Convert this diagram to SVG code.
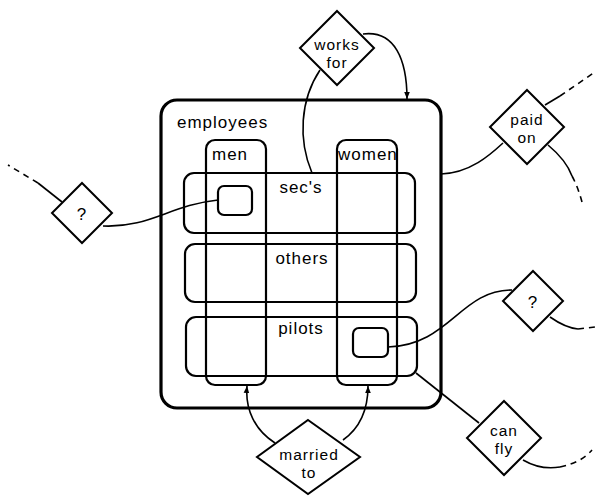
<svg xmlns="http://www.w3.org/2000/svg" width="595" height="496" viewBox="0 0 595 496">
<defs>
<style>
.box{fill:none;stroke:#000;stroke-width:2.2}
.outer{fill:none;stroke:#000;stroke-width:3.2}
.dia{fill:#fff;stroke:#000;stroke-width:2}
.ln{fill:none;stroke:#000;stroke-width:1.6}
.dash{fill:none;stroke:#000;stroke-width:1.6;stroke-dasharray:6 5}
text{font-family:"Liberation Sans",Arial,sans-serif;font-size:17px;letter-spacing:1px;fill:#000}
.c{text-anchor:middle}
.d{font-size:15.5px}
</style>
<marker id="ah" viewBox="0 0 10 10" refX="10" refY="5" markerWidth="7" markerHeight="9" orient="auto" markerUnits="userSpaceOnUse">
<path d="M0,1 L10,5 L0,9 Z" fill="#000"/>
</marker>
</defs>
<rect width="595" height="496" fill="#fff"/>

<g id="employees">
<rect class="outer" x="161" y="100" width="280" height="308" rx="16"/>
<text x="177" y="128">employees</text>
</g>
<g id="men">
<rect class="box" x="206" y="140" width="60" height="245" rx="9"/>
<text x="212" y="160">men</text>
</g>
<g id="women">
<rect class="box" x="337" y="140" width="60" height="245" rx="9"/>
<text x="338" y="160">women</text>
</g>
<g id="secs">
<rect class="box" x="184" y="173" width="231" height="60" rx="10"/>
<text x="301" y="193" class="c">sec's</text>
</g>
<g id="others">
<rect class="box" x="185" y="244" width="231" height="58" rx="10"/>
<text x="302" y="264" class="c">others</text>
</g>
<g id="pilots">
<rect class="box" x="186" y="317" width="231" height="59" rx="10"/>
<text x="301" y="334" class="c">pilots</text>
</g>
<g id="sec-man">
<rect class="box" x="218" y="186" width="34" height="29" rx="6"/>
</g>
<g id="pilot-woman">
<rect class="box" x="353" y="328" width="35" height="29" rx="6"/>
</g>

<g id="connectors">
<path class="ln" d="M320,70 C300,100 298,140 312,173"/>
<path class="ln" d="M363,34 C395,30 407,60 407,99" marker-end="url(#ah)"/>
<path class="ln" d="M103,226 C150,228 170,205 218,200"/>
<path class="ln" d="M62,202 L38,183"/>
<path class="dash" d="M38,183 L8,165"/>
<path class="ln" d="M441,174 C470,173 490,155 503,143"/>
<path class="ln" d="M545,105 L560,96"/>
<path class="dash" d="M560,96 L595,72"/>
<path class="ln" d="M548,145 C560,155 568,165 572,176"/>
<path class="dash" d="M572,176 C577,185 580,195 582,202"/>
<path class="ln" d="M388,347 C450,345 460,290 512,290"/>
<path class="ln" d="M550,317 C560,324 568,328 578,329"/>
<path class="dash" d="M578,329 L595,327"/>
<path class="ln" d="M416,373 L479,423"/>
<path class="ln" d="M523,460 C535,467 548,469 560,467"/>
<path class="dash" d="M560,467 C575,464 585,458 592,450"/>
<path class="ln" d="M275,443 C255,430 245,410 247,386" marker-end="url(#ah)"/>
<path class="ln" d="M343,440 C360,428 368,410 368,386" marker-end="url(#ah)"/>
</g>

<g id="works-for">
<polygon class="dia" points="337,11 374,48 337,85 300,48"/>
<text x="337" y="50" class="c d">works</text>
<text x="337" y="68" class="c d">for</text>
</g>
<g id="q-left">
<polygon class="dia" points="82,183 112,213 82,243 52,213"/>
<text x="82" y="220" class="c">?</text>
</g>
<g id="paid-on">
<polygon class="dia" points="527,90 564,127 527,164 490,127"/>
<text x="527" y="125" class="c d">paid</text>
<text x="527" y="143" class="c d">on</text>
</g>
<g id="q-right">
<polygon class="dia" points="533,271 563,301 533,331 503,301"/>
<text x="533" y="308" class="c">?</text>
</g>
<g id="can-fly">
<polygon class="dia" points="504,401 541,438 504,475 467,438"/>
<text x="504" y="436" class="c d">can</text>
<text x="504" y="454" class="c d">fly</text>
</g>
<g id="married-to">
<polygon class="dia" points="308,420 360,457 308,494 257,457"/>
<text x="309" y="460" class="c d">married</text>
<text x="309" y="478" class="c d">to</text>
</g>
</svg>
